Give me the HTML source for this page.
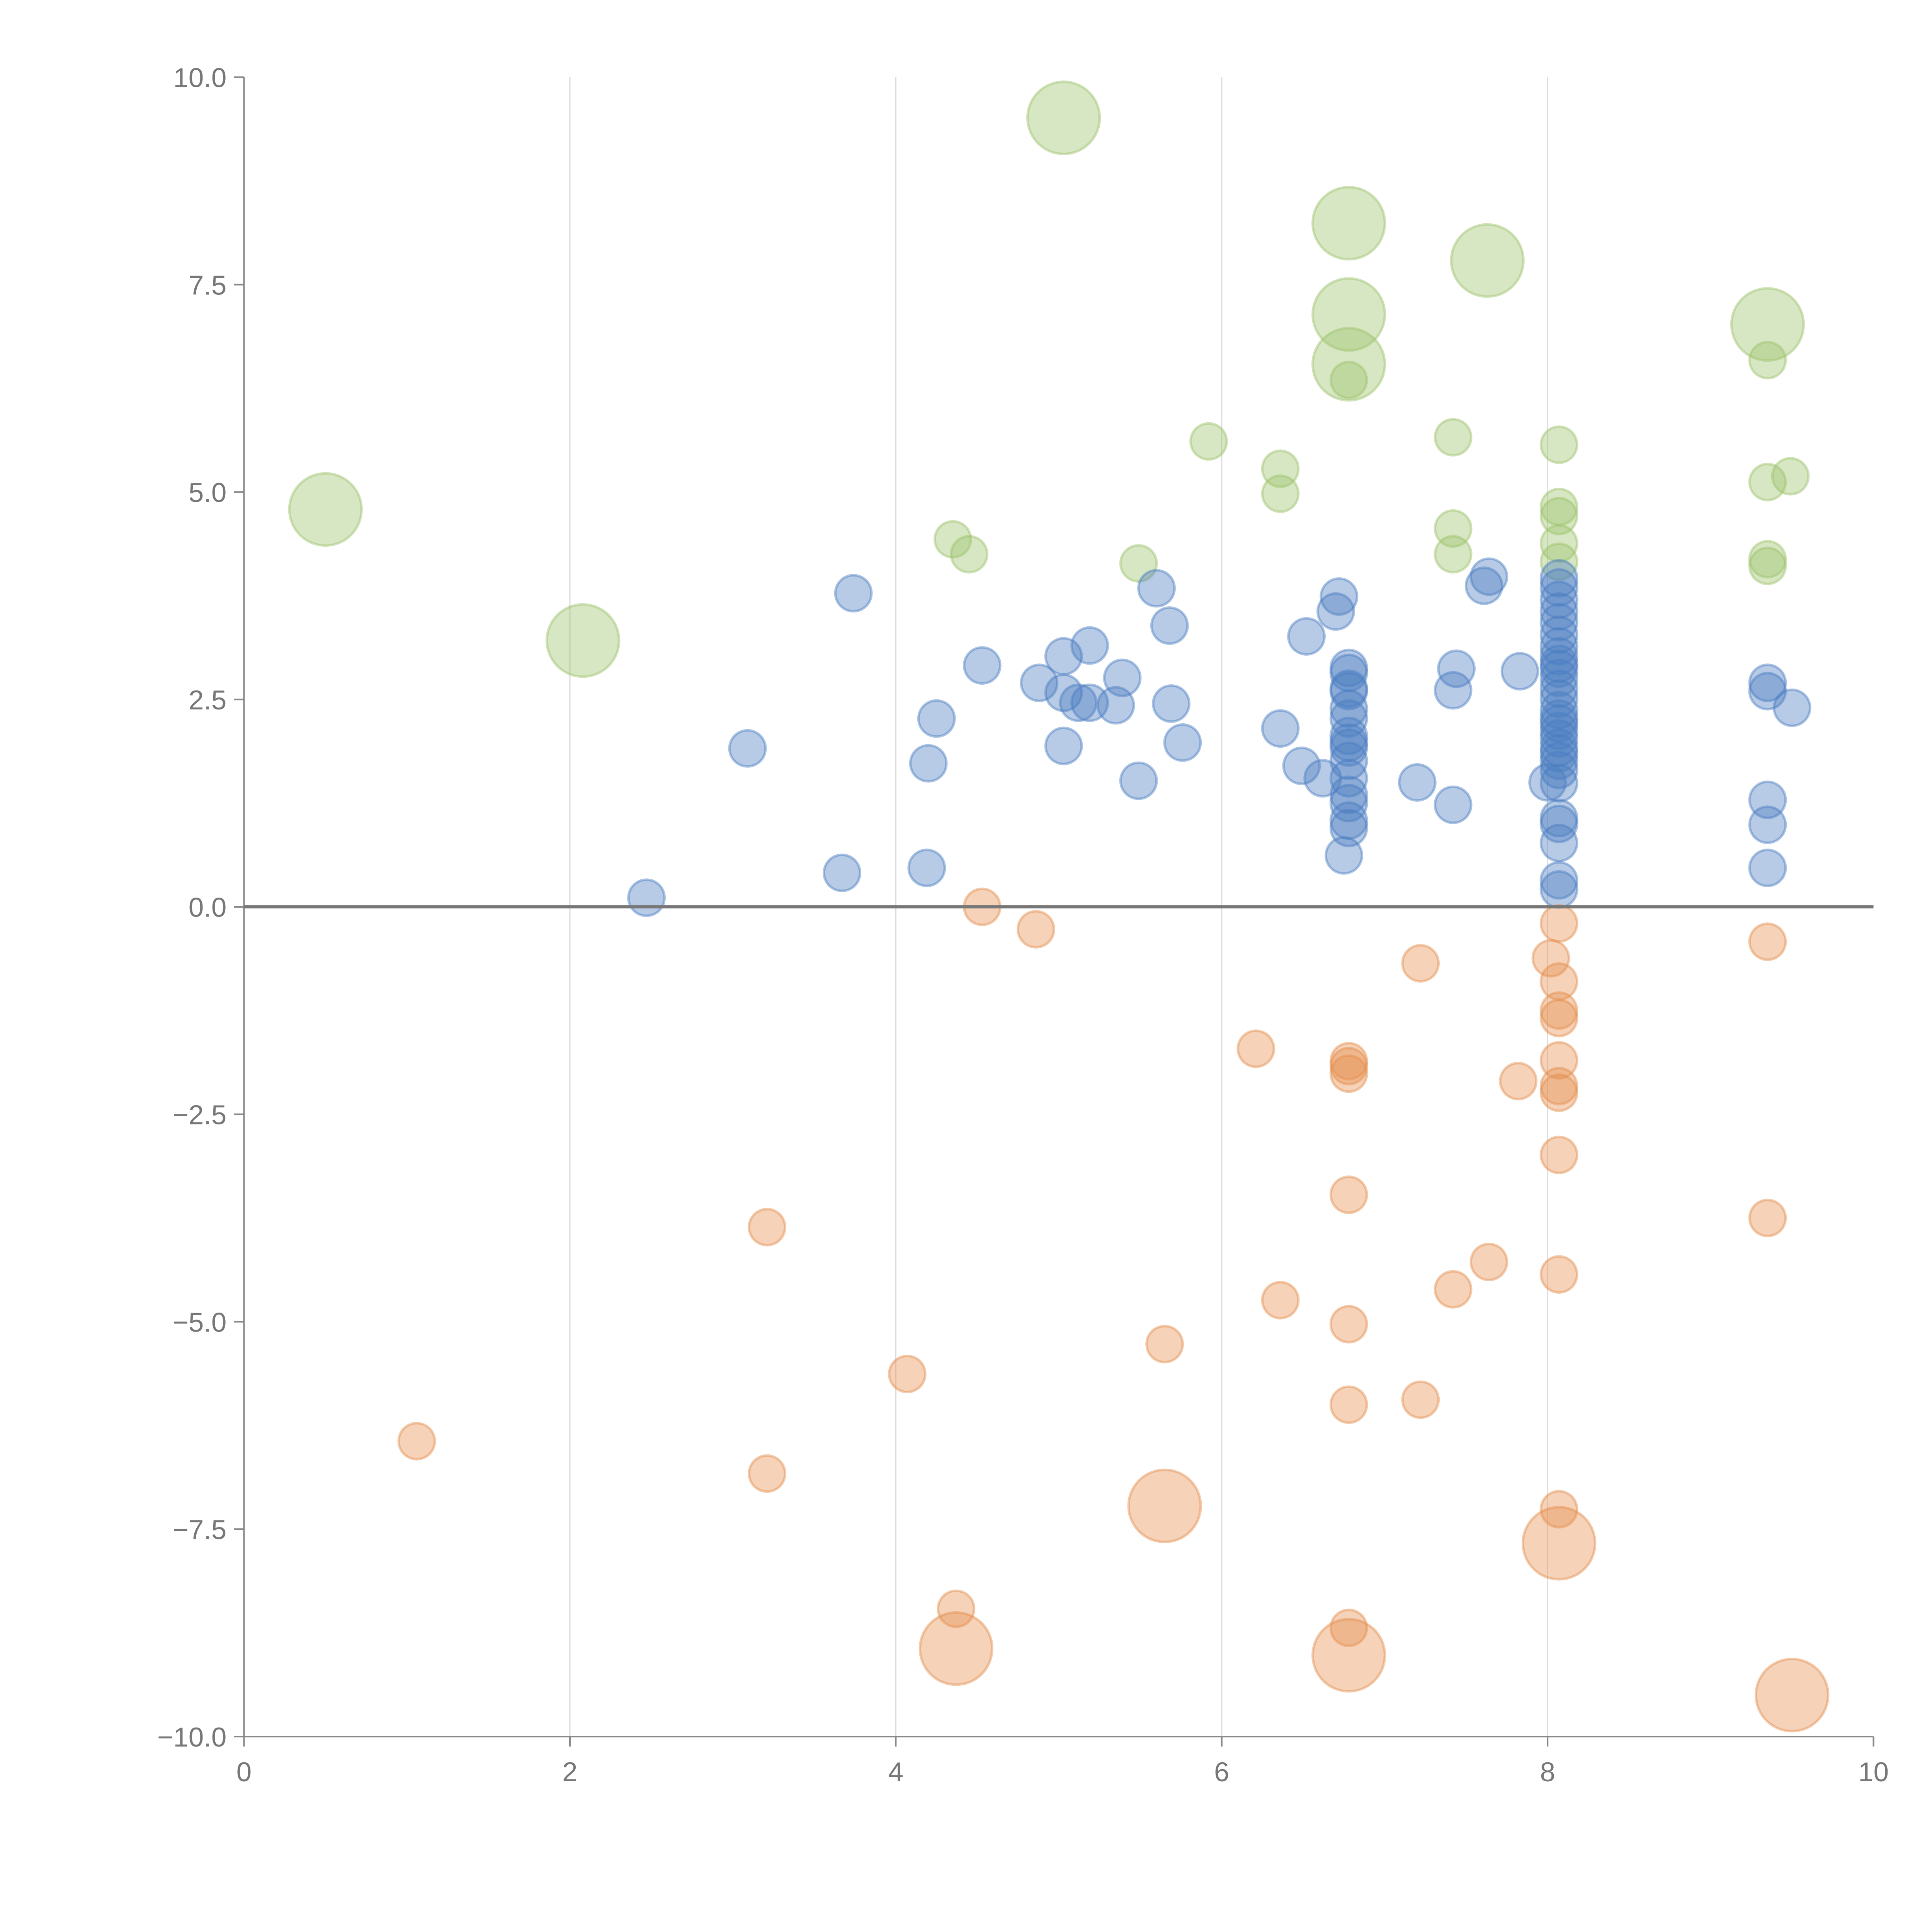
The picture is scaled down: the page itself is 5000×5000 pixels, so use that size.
<!DOCTYPE html>
<html><head><meta charset="utf-8"><style>html,body{margin:0;padding:0;background:#fff}svg{display:block}</style></head>
<body>
<svg id="chart" width="5000" height="5000" viewBox="0 0 1552 1552" xmlns="http://www.w3.org/2000/svg" font-family="Liberation Sans, sans-serif">
<g id="grid"></g>
<g id="marks"></g>
<g id="axes"></g>
</svg>
<script>
const xTicks = [0, 2, 4, 6, 8, 10];
const yTicks = [10, 7.5, 5, 2.5, 0, -2.5, -5, -7.5, -10];
const yTickLabels = ["10.0", "7.5", "5.0", "2.5", "0.0", "\u22122.5", "\u22125.0", "\u22127.5", "\u221210.0"];

const greenX = [5.03,6.78,7.63,6.78,6.78,9.35,0.50,2.08, 6.78,9.35,5.92,6.36,6.36,7.42,8.07,9.35,9.49,4.35,4.45,5.49,7.42,7.42,8.07,8.07,8.07,8.07,9.35,9.35];
const greenY = [9.51,8.24,7.79,7.14,6.54,7.02,4.79,3.21, 6.35,6.59,5.61,5.28,4.98,5.66,5.57,5.12,5.19,4.43,4.25,4.14,4.56,4.25,4.82,4.71,4.38,4.16,4.19,4.11];
const greenS = [4,4,4,4,4,4,4,4, 1,1,1,1,1,1,1,1,1,1,1,1,1,1,1,1,1,1,1,1];

const blueX = [2.47,3.09,3.67,3.74,4.19,4.20,4.25,4.53,4.88,5.03,5.03,5.03,5.12,5.19,5.19,5.35,5.39,5.49,5.60,5.68,5.69,5.76,6.36,6.49,6.52,6.62,6.70,6.72,6.75,
 6.78,6.78,6.78,6.78,6.78,6.78,6.78,6.78,6.78,6.78,6.78,6.78,6.78,6.78,6.78,
 7.20,7.42,7.42,7.44,7.61,7.64,7.83,8.00,
 8.07,8.07,8.07,8.07,8.07,8.07,8.07,8.07,8.07,8.07,8.07,8.07,8.07,8.07,8.07,8.07,8.07,8.07,8.07,8.07,8.07,8.07,8.07,8.07,8.07,8.07,8.07,8.07,
 9.35,9.35,9.35,9.35,9.35,9.50];
const blueY = [0.11,1.91,0.41,3.78,0.47,1.73,2.27,2.91,2.70,3.02,2.58,1.94,2.46,3.15,2.46,2.43,2.76,1.52,3.84,3.39,2.45,1.98,2.15,1.70,3.26,1.55,3.56,3.74,0.62,
 2.88,2.82,2.63,2.60,2.39,2.27,2.06,1.98,1.92,1.76,1.55,1.35,1.25,1.04,0.95,
 1.50,1.23,2.61,2.87,3.87,3.98,2.84,1.50,
 3.96,3.85,3.70,3.56,3.43,3.28,3.14,3.02,2.93,2.87,2.76,2.63,2.51,2.37,2.27,2.21,2.12,2.03,1.92,1.85,1.76,1.65,1.49,1.07,1.00,0.77,0.32,0.21,
 2.70,2.60,1.29,0.99,0.47,2.40];
const blueS = blueX.map(() => 1);

const orangeX = [4.53,4.86,7.22,8.07,8.02,8.07,8.07,8.07,8.07,8.07,8.07,7.82,6.21,6.78,6.78,6.78,9.35,8.07,6.78,9.35,3.21,7.64,7.42,6.36,8.07,6.78,5.65,4.07,7.22,6.78,1.06,3.21,8.07,4.37,6.78,
 5.65,8.07,4.37,6.78,9.50];
const orangeY = [0.0,-0.27,-0.68,-0.2,-0.62,-0.9,-1.25,-1.34,-1.85,-2.16,-2.24,-2.10,-1.71,-1.86,-1.92,-2.01,-0.42,-2.99,-3.47,-3.75,-3.86,-4.28,-4.61,-4.74,-4.43,-5.03,-5.27,-5.63,-5.94,-6.0,-6.44,-6.83,-7.26,-8.46,-8.69,
 -7.22,-7.67,-8.94,-9.02,-9.50];
const orangeS = [1,1,1,1,1,1,1,1,1,1,1,1,1,1,1,1,1,1,1,1,1,1,1,1,1,1,1,1,1,1,1,1,1,1,1, 4,4,4,4,4];

const X0 = 196, X1 = 1505, Y0 = 1395, Y1 = 62;
function sx(v){ return X0 + (v - 0) / 10 * (X1 - X0); }
function sy(v){ return Y0 - (v + 10) / 20 * (Y0 - Y1); }
function rs(s){ return 14.5 * Math.sqrt(s); }
const NS = "http://www.w3.org/2000/svg";
function mk(tag, attrs, parent){ const e = document.createElementNS(NS, tag); for (const k in attrs) e.setAttribute(k, attrs[k]); parent.appendChild(e); return e; }

const grid = document.getElementById('grid');
xTicks.forEach(t => {
  if (t === 0 || t === 10) return;
  const l = mk('line', {x1: sx(t), x2: sx(t), y1: Y1, y2: Y0, stroke: '#dcdcdc', 'stroke-width': 1}, grid);
  
  
});

const marks = document.getElementById('marks');
function series(xs, ys, ss, color, name){
  const g = mk('g', {}, marks);
  
  
  xs.forEach((x, i) => {
    const c = mk('circle', {cx: sx(x), cy: sy(ys[i]), r: rs(ss[i]), fill: color, 'fill-opacity': 0.4, stroke: color, 'stroke-opacity': 0.45, 'stroke-width': 2}, g);
    
    
  });
}
series(greenX, greenY, greenS, '#9cc26a', 'green');
series(blueX, blueY, blueS, '#4a7cc0', 'blue');
series(orangeX, orangeY, orangeS, '#e58f4e', 'orange');

const axes = document.getElementById('axes');
let a = mk('line', {x1: X0, x2: X0, y1: Y1, y2: Y0, stroke: '#888', 'stroke-width': 1.3}, axes);
 
a = mk('line', {x1: X0, x2: X1, y1: Y0, y2: Y0, stroke: '#888', 'stroke-width': 1.3}, axes);
 
a = mk('line', {x1: X0, x2: X1, y1: sy(0), y2: sy(0), stroke: '#777', 'stroke-width': 2.5}, axes);
 
xTicks.forEach(t => {
  const tk = mk('line', {x1: sx(t), x2: sx(t), y1: Y0, y2: Y0 + 8, stroke: '#888', 'stroke-width': 1.3}, axes);
   
  const tx = mk('text', {x: sx(t), y: Y0 + 36, 'text-anchor': 'middle', 'font-size': 22, fill: '#777'}, axes);
  tx.textContent = t;
   
});
yTicks.forEach((t, i) => {
  const tk = mk('line', {x1: X0 - 8, x2: X0, y1: sy(t), y2: sy(t), stroke: '#888', 'stroke-width': 1.3}, axes);
   
  const tx = mk('text', {x: X0 - 14, y: sy(t) + 8, 'text-anchor': 'end', 'font-size': 22, fill: '#777'}, axes);
  tx.textContent = yTickLabels[i];
   
});
</script>
</body></html>
